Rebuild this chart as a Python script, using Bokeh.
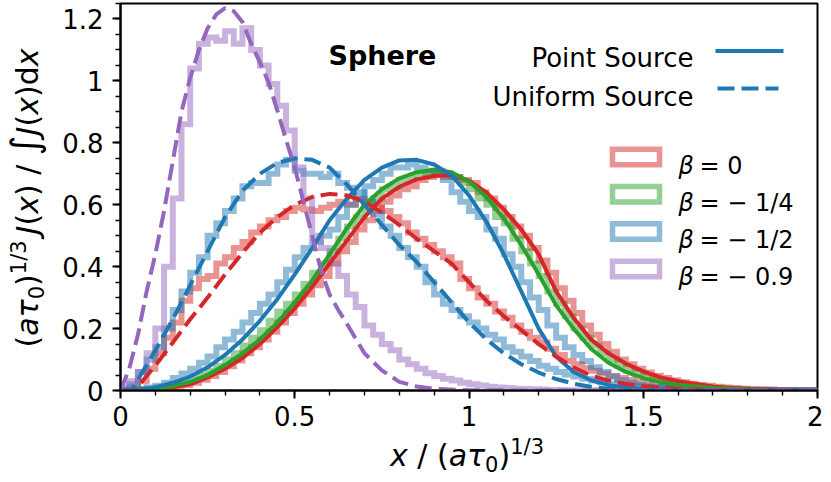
import numpy as np
from bokeh.plotting import figure
from bokeh.layouts import row, column
from bokeh.models import Range1d, FixedTicker, CustomJSTickFormatter, Label, Div
from bokeh.embed import file_html
from bokeh.resources import INLINE

# ---------------- data ----------------
BIN_W = 0.025
BIN_EDGES = [round(i * BIN_W, 4) for i in range(81)]   # histogram bin edges 0 .. 2

# histograms (normalised), one value per bin
RED_U_H = [0.0, 0.01, 0.03, 0.07, 0.12, 0.17, 0.22, 0.29, 0.33, 0.36,
           0.37, 0.41, 0.43, 0.46, 0.48, 0.51, 0.53, 0.55, 0.56, 0.58,
           0.59, 0.585, 0.58, 0.59, 0.60, 0.61, 0.60, 0.62, 0.61, 0.59,
           0.58, 0.56, 0.54, 0.51, 0.49, 0.47, 0.45, 0.43, 0.41, 0.36,
           0.33, 0.30, 0.28, 0.255, 0.235, 0.21, 0.19, 0.17, 0.155, 0.135,
           0.115, 0.095, 0.085, 0.072, 0.064, 0.055, 0.047, 0.04, 0.033, 0.027,
           0.022, 0.018, 0.015, 0.012, 0.01, 0.008, 0.007, 0.006, 0.005, 0.004,
           0.003, 0.003, 0.002, 0.002, 0.002, 0.001, 0.001, 0.001, 0.001, 0.0]
RED_P_H = [0.0, 0.0, 0.001, 0.003, 0.005, 0.008, 0.012, 0.018, 0.025, 0.035,
           0.047, 0.06, 0.078, 0.097, 0.12, 0.14, 0.165, 0.19, 0.22, 0.25,
           0.28, 0.31, 0.34, 0.37, 0.41, 0.45, 0.48, 0.52, 0.55, 0.58,
           0.61, 0.63, 0.65, 0.66, 0.68, 0.69, 0.70, 0.69, 0.69, 0.68,
           0.67, 0.64, 0.62, 0.59, 0.56, 0.53, 0.50, 0.46, 0.42, 0.38,
           0.33, 0.29, 0.25, 0.21, 0.18, 0.15, 0.125, 0.10, 0.085, 0.07,
           0.058, 0.048, 0.04, 0.033, 0.027, 0.022, 0.018, 0.015, 0.012, 0.01,
           0.008, 0.006, 0.005, 0.004, 0.003, 0.002, 0.002, 0.001, 0.001, 0.001]
GREEN_P_H = [0.0, 0.001, 0.003, 0.006, 0.01, 0.014, 0.02, 0.028, 0.037, 0.05,
             0.064, 0.08, 0.10, 0.12, 0.145, 0.17, 0.195, 0.225, 0.255, 0.28,
             0.31, 0.345, 0.38, 0.41, 0.45, 0.49, 0.53, 0.56, 0.60, 0.62,
             0.65, 0.66, 0.68, 0.69, 0.70, 0.70, 0.71, 0.70, 0.69, 0.67,
             0.65, 0.62, 0.60, 0.56, 0.54, 0.49, 0.45, 0.41, 0.37, 0.32,
             0.28, 0.24, 0.20, 0.17, 0.145, 0.12, 0.10, 0.08, 0.065, 0.052,
             0.042, 0.034, 0.027, 0.021, 0.017, 0.013, 0.01, 0.008, 0.006, 0.005,
             0.004, 0.003, 0.002, 0.002, 0.001, 0.001, 0.001, 0.001, 0.0, 0.0]
BLUE_U_H = [0.005, 0.02, 0.06, 0.10, 0.14, 0.20, 0.26, 0.32, 0.38, 0.43,
            0.50, 0.54, 0.58, 0.62, 0.66, 0.67, 0.67, 0.70, 0.73, 0.745,
            0.71, 0.70, 0.70, 0.69, 0.70, 0.67, 0.655, 0.64, 0.61, 0.57,
            0.53, 0.50, 0.46, 0.43, 0.40, 0.35, 0.31, 0.28, 0.26, 0.24,
            0.22, 0.20, 0.18, 0.165, 0.14, 0.125, 0.11, 0.095, 0.08, 0.07,
            0.06, 0.052, 0.045, 0.038, 0.032, 0.027, 0.022, 0.018, 0.015, 0.013,
            0.011, 0.009, 0.008, 0.006, 0.005, 0.004, 0.003, 0.003, 0.002, 0.002,
            0.001, 0.001, 0.001, 0.001, 0.001, 0.0, 0.0, 0.0, 0.0, 0.0]
BLUE_P_H = [0.0, 0.002, 0.005, 0.01, 0.015, 0.025, 0.04, 0.055, 0.07, 0.09,
            0.11, 0.14, 0.165, 0.19, 0.22, 0.25, 0.28, 0.31, 0.35, 0.39,
            0.43, 0.46, 0.48, 0.50, 0.52, 0.56, 0.60, 0.62, 0.66, 0.68,
            0.70, 0.72, 0.72, 0.73, 0.72, 0.71, 0.70, 0.68, 0.64, 0.61,
            0.58, 0.56, 0.52, 0.49, 0.44, 0.40, 0.35, 0.30, 0.26, 0.21,
            0.17, 0.14, 0.115, 0.095, 0.075, 0.06, 0.045, 0.034, 0.025, 0.018,
            0.014, 0.01, 0.008, 0.006, 0.005, 0.004, 0.003, 0.002, 0.002, 0.001,
            0.001, 0.001, 0.0, 0.0, 0.0, 0.0, 0.0, 0.0, 0.0, 0.0]
PURPLE_U_H = [0.01, 0.03, 0.06, 0.12, 0.20, 0.40, 0.62, 0.86, 1.04, 1.12,
              1.14, 1.13, 1.16, 1.12, 1.17, 1.10, 1.05, 0.99, 0.92, 0.84,
              0.72, 0.62, 0.50, 0.46, 0.41, 0.37, 0.31, 0.27, 0.21, 0.18,
              0.15, 0.13, 0.10, 0.085, 0.07, 0.056, 0.047, 0.038, 0.032, 0.025,
              0.02, 0.016, 0.012, 0.01, 0.008, 0.006, 0.005, 0.004, 0.003, 0.002,
              0.002, 0.001, 0.001, 0.001, 0.001, 0.0, 0.0, 0.0, 0.0, 0.0,
              0.0, 0.0, 0.0, 0.0, 0.0, 0.0, 0.0, 0.0, 0.0, 0.0,
              0.0, 0.0, 0.0, 0.0, 0.0, 0.0, 0.0, 0.0, 0.0, 0.0]

# analytic curves: point source (solid) and uniform source (dashed)
RED_P_X = [0, 0.07, 0.1, 0.15, 0.2, 0.25, 0.3, 0.35, 0.4, 0.45, 0.5, 0.55, 0.6, 0.65, 0.7, 0.75,
           0.8, 0.85, 0.9, 0.95, 1.0, 1.05, 1.1, 1.15, 1.2, 1.25, 1.3, 1.35, 1.4, 1.45, 1.5,
           1.55, 1.6, 1.7, 1.8, 1.9, 2.0]
RED_P_Y = [0, 0.001, 0.003, 0.01, 0.02, 0.042, 0.07, 0.105, 0.15, 0.205, 0.265, 0.335, 0.41,
           0.485, 0.56, 0.62, 0.658, 0.682, 0.693, 0.695, 0.678, 0.64, 0.585, 0.52, 0.44,
           0.32, 0.235, 0.165, 0.12, 0.087, 0.062, 0.042, 0.03, 0.013, 0.005, 0.002, 0.001]
GREEN_P_X = [0, 0.06, 0.1, 0.15, 0.2, 0.25, 0.3, 0.35, 0.4, 0.45, 0.5, 0.55, 0.6, 0.65, 0.7, 0.75,
             0.8, 0.85, 0.9, 0.95, 1.0, 1.05, 1.1, 1.15, 1.2, 1.25, 1.3, 1.35, 1.4, 1.45, 1.5,
             1.55, 1.6, 1.7, 1.8, 1.9, 2.0]
GREEN_P_Y = [0, 0.001, 0.005, 0.014, 0.028, 0.05, 0.082, 0.12, 0.165, 0.22, 0.285, 0.355, 0.44,
             0.525, 0.6, 0.65, 0.685, 0.705, 0.713, 0.705, 0.675, 0.625, 0.555, 0.47, 0.375,
             0.275, 0.2, 0.135, 0.09, 0.06, 0.04, 0.027, 0.018, 0.008, 0.003, 0.001, 0]
BLUE_P_X = [0, 0.05, 0.1, 0.15, 0.2, 0.25, 0.3, 0.35, 0.4, 0.45, 0.5, 0.55, 0.6, 0.65, 0.7, 0.75,
            0.8, 0.85, 0.9, 0.95, 1.0, 1.05, 1.1, 1.15, 1.2, 1.25, 1.3, 1.35, 1.4, 1.45, 1.5,
            1.6, 1.7, 2.0]
BLUE_P_Y = [0, 0.002, 0.01, 0.025, 0.045, 0.075, 0.115, 0.165, 0.225, 0.295, 0.375, 0.46, 0.55,
            0.62, 0.68, 0.72, 0.743, 0.745, 0.73, 0.695, 0.63, 0.545, 0.44, 0.32, 0.20, 0.11,
            0.06, 0.033, 0.018, 0.009, 0.005, 0.002, 0.001, 0]
RED_U_X = [0, 0.04, 0.1, 0.15, 0.2, 0.25, 0.3, 0.35, 0.4, 0.45, 0.5, 0.55, 0.6, 0.65, 0.7, 0.75,
           0.8, 0.85, 0.9, 0.95, 1.0, 1.05, 1.1, 1.15, 1.2, 1.25, 1.3, 1.35, 1.4, 1.45, 1.5,
           1.55, 1.6, 1.7, 1.8, 2.0]
RED_U_Y = [0, 0.0, 0.08, 0.155, 0.23, 0.30, 0.375, 0.445, 0.51, 0.56, 0.60, 0.625, 0.635, 0.63,
           0.61, 0.575, 0.535, 0.49, 0.45, 0.41, 0.35, 0.29, 0.24, 0.195, 0.15, 0.11, 0.075,
           0.048, 0.032, 0.021, 0.014, 0.009, 0.006, 0.002, 0.001, 0]
BLUE_U_X = [0, 0.03, 0.05, 0.1, 0.15, 0.2, 0.25, 0.3, 0.35, 0.4, 0.45, 0.5, 0.55, 0.6, 0.65, 0.7,
            0.75, 0.8, 0.85, 0.9, 0.95, 1.0, 1.05, 1.1, 1.15, 1.2, 1.25, 1.3, 1.35, 1.4, 1.45,
            1.5, 1.6, 1.8, 2.0]
BLUE_U_Y = [0, 0.0, 0.035, 0.13, 0.23, 0.34, 0.45, 0.56, 0.645, 0.70, 0.735, 0.75, 0.745, 0.72,
            0.665, 0.60, 0.535, 0.47, 0.415, 0.35, 0.285, 0.22, 0.165, 0.12, 0.085, 0.058, 0.037,
            0.022, 0.012, 0.006, 0.003, 0.001, 0, 0, 0]
PURPLE_U_X = [0, 0.025, 0.05, 0.075, 0.1, 0.125, 0.15, 0.175, 0.2, 0.225, 0.25, 0.275, 0.3,
              0.325, 0.35, 0.375, 0.4, 0.425, 0.45, 0.475, 0.5, 0.525, 0.55, 0.575, 0.6, 0.625,
              0.65, 0.7, 0.75, 0.8, 0.85, 0.9, 1.0, 1.2, 1.5, 2.0]
PURPLE_U_Y = [0, 0.07, 0.18, 0.32, 0.44, 0.58, 0.74, 0.90, 1.01, 1.10, 1.17, 1.215, 1.235,
              1.225, 1.19, 1.12, 1.06, 0.995, 0.905, 0.81, 0.72, 0.61, 0.50, 0.39, 0.31, 0.26,
              0.215, 0.12, 0.065, 0.028, 0.013, 0.005, 0.001, 0, 0, 0]

X_TICKS = [0, 0.5, 1, 1.5, 2]
Y_TICKS = [0, 0.2, 0.4, 0.6, 0.8, 1, 1.2]
X_MINOR = [i / 10 for i in range(21)]
Y_MINOR = [i / 20 for i in range(26)]

BETA_LABELS = ["= 0", "= \u2212 1/4", "= \u2212 1/2", "= \u2212 0.9"]
SUB_STYLE = "font-size:21px;position:relative;top:6px"
SUP_STYLE = "font-size:21px;position:relative;top:-12px"
X_LABEL_HTML = ("<i>x</i> / (<i>a\u03c4</i><span style='%s'>0</span>)"
                "<span style='%s'>1/3</span>" % (SUB_STYLE, SUP_STYLE))
Y_LABEL_HTML = ("(<i>a\u03c4</i><span style='%s'>0</span>)<span style='%s'>1/3</span>"
                "&thinsp;<i>J</i>(<i>x</i>) / <span style='font-size:38px'>\u222b</span>"
                "<i>J</i>(<i>x</i>)d<i>x</i>" % (SUB_STYLE, SUP_STYLE))

# ---------------- style / layout ----------------
C_RED, C_GREEN, C_BLUE, C_PURPLE = "#d62728", "#2ca02c", "#1f77b4", "#9467bd"
FONT = "DejaVu Sans"
TOT_W, TOT_H = 823, 474
YDIV_W = 46
P_W, P_H = TOT_W - YDIV_W, 438
XDIV_H = TOT_H - P_H
FX0, FY0, FX1, FY1 = 120, 3, 817, 390          # frame edges in picture pixels
BL, BR, BT, BB = FX0 - YDIV_W, TOT_W - FX1, FY0, P_H - FY1
X0, X1, Y0, Y1 = 0.0, 2.0, 0.0, 1.25
FW, FH = FX1 - FX0, FY1 - FY0


def dx(px):
    return X0 + (px - FX0) / FW * (X1 - X0)


def dy(py):
    return Y1 - (py - FY0) / FH * (Y1 - Y0)


p = figure(width=P_W, height=P_H, output_backend="svg", toolbar_location=None,
           x_range=Range1d(X0, X1), y_range=Range1d(Y0, Y1),
           min_border_left=BL, min_border_right=BR, min_border_top=BT, min_border_bottom=BB)
p.grid.visible = False
p.outline_line_color = "black"
p.outline_line_width = 2
p.background_fill_color = "white"
p.border_fill_color = "white"

fmt = CustomJSTickFormatter(code="return tick.toFixed(1).replace(/\\.0$/, '');")
for ax, ticks, minor, standoff in ((p.xaxis[0], X_TICKS, X_MINOR, 7),
                                   (p.yaxis[0], Y_TICKS, Y_MINOR, 9)):
    ax.ticker = FixedTicker(ticks=ticks, minor_ticks=minor)
    ax.formatter = fmt
    ax.axis_line_width = 2
    ax.major_tick_line_width = 2
    ax.minor_tick_line_width = 1.4
    ax.major_tick_out = 8
    ax.major_tick_in = 0
    ax.minor_tick_out = 5
    ax.minor_tick_in = 0
    ax.major_label_text_font = FONT
    ax.major_label_text_font_size = "26px"
    ax.major_label_text_color = "black"
    ax.major_label_standoff = standoff

# ---------------- histograms ----------------
def step_path(edges, vals):
    xs, ys = [edges[0]], [0.0]
    for i, v in enumerate(vals):
        xs += [edges[i], edges[i + 1]]
        ys += [v, v]
    xs.append(edges[len(vals)])
    ys.append(0.0)
    return xs, ys


for vals, col in ((RED_U_H, C_RED), (RED_P_H, C_RED), (GREEN_P_H, C_GREEN),
                  (BLUE_U_H, C_BLUE), (BLUE_P_H, C_BLUE), (PURPLE_U_H, C_PURPLE)):
    xs, ys = step_path(BIN_EDGES, vals)
    p.line(xs, ys, line_color=col, line_alpha=0.5, line_width=6, line_join="miter")

# ---------------- curves ----------------
LW = 4
DASH = "17 7"
p.line(RED_P_X, RED_P_Y, line_color=C_RED, line_width=LW)
p.line(GREEN_P_X, GREEN_P_Y, line_color=C_GREEN, line_width=LW)
p.line(BLUE_P_X, BLUE_P_Y, line_color=C_BLUE, line_width=LW)
p.line(RED_U_X, RED_U_Y, line_color=C_RED, line_width=LW, line_dash=DASH)
p.line(BLUE_U_X, BLUE_U_Y, line_color=C_BLUE, line_width=LW, line_dash=DASH)
p.line(PURPLE_U_X, PURPLE_U_Y, line_color=C_PURPLE, line_width=LW, line_dash=DASH)


def lab(px, py, txt, size, style="normal", align="left"):
    p.add_layout(Label(x=dx(px), y=dy(py), text=txt, text_font=FONT,
                       text_font_size=f"{size}px", text_font_style=style,
                       text_align=align, text_baseline="alphabetic", text_color="black"))


# title-like annotation
lab(328, 55, "Sphere", 27, style="bold")

# source legend (labels left of their line samples)
lab(693, 57, "Point Source", 26, align="right")
lab(693, 96, "Uniform Source", 26, align="right")
p.line([dx(715), dx(783)], [dy(50.5), dy(50.5)], line_color=C_BLUE, line_width=LW)
p.line([dx(717), dx(778)], [dy(88), dy(88)], line_color=C_BLUE, line_width=LW, line_dash=DASH)

# beta legend (histogram swatches)
for i, (col, txt) in enumerate(zip((C_RED, C_GREEN, C_BLUE, C_PURPLE), BETA_LABELS)):
    cy = 156.5 + 37.3 * i
    p.rect(x=[dx(635.5)], y=[dy(cy)], width=47, height=15.5, width_units="screen",
           height_units="screen", fill_color=None, line_color=col, line_alpha=0.5,
           line_width=5.5, line_join="miter")
    lab(678, cy + 8.5, "\u03b2", 24, "italic")
    lab(699, cy + 8.5, txt, 24)

# ---------------- axis labels (HTML so that sub/superscripts and italics are real text) ----------------
TXT_CSS = "white-space:nowrap;font-family:'DejaVu Sans';font-size:30px;line-height:30px;color:#000;"
ydiv = Div(width=YDIV_W, height=P_H, margin=(0, 0, 0, 0),
           text=("<div style='position:relative;width:%dpx;height:%dpx;'>"
                 "<div style=\"position:absolute;left:28px;top:198px;"
                 "transform:translate(-50%%,-50%%) rotate(-90deg);%s\">%s</div></div>"
                 % (YDIV_W, P_H, TXT_CSS, Y_LABEL_HTML)))
xdiv = Div(width=TOT_W, height=XDIV_H, margin=(0, 0, 0, 0),
           text=("<div style='position:relative;width:%dpx;height:%dpx;'>"
                 "<div style=\"position:absolute;left:390px;top:3px;%s\">%s</div></div>"
                 % (TOT_W, XDIV_H, TXT_CSS, X_LABEL_HTML)))

layout = column(row(ydiv, p, spacing=0), xdiv, spacing=0)

open("out.html", "w").write(file_html(layout, INLINE))
